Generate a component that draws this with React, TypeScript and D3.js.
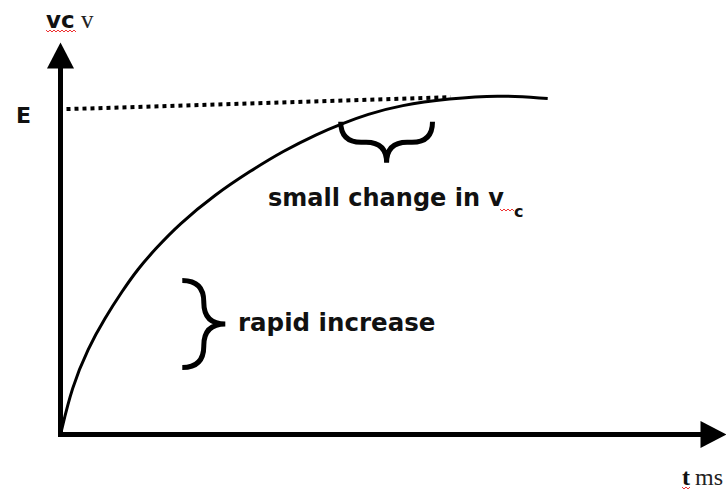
import React from "react";
import * as d3 from "d3";

// ---- data ----
const curveT = [0, 0.19, 0.46, 0.74, 1.03, 1.29, 1.58, 1.96, 2.59, 3.16, 3.71, 4.28, 4.69, 5.11, 5.66, 6.49, 7.27, 8.12];
const curveV = [0, 1.44, 2.62, 3.53, 4.35, 5.02, 5.62, 6.35, 7.29, 7.98, 8.59, 9.11, 9.42, 9.7, 9.98, 10.18, 10.29, 10.18];
const eLineT = [0.1, 6.5];
const eLineV = [9.86, 10.22];
const axisMaxT = 11.1;
const axisMaxV = 11.88;
const smallBrace = { t0: 4.67, t1: 6.2, v: 9.48 };
const rapidBrace = { t: 2.03, v0: 4.67, v1: 2.03 };

const W = 726;
const H = 491;

const x = d3.scaleLinear().domain([0, 10]).range([60.5, 660.5]);
const y = d3.scaleLinear().domain([0, 10]).range([434.5, 104.5]);

function hBrace(x0: number, x1: number, yy: number, d: number) {
  const q = d / 2;
  const m = (x0 + x1) / 2;
  const p = d3.path();
  p.moveTo(x0, yy);
  p.quadraticCurveTo(x0, yy + q, x0 + q, yy + q);
  p.lineTo(m - q, yy + q);
  p.quadraticCurveTo(m, yy + q, m, yy + d);
  p.quadraticCurveTo(m, yy + q, m + q, yy + q);
  p.lineTo(x1 - q, yy + q);
  p.quadraticCurveTo(x1, yy + q, x1, yy);
  return p.toString();
}

function vBrace(xx: number, y0: number, y1: number, d: number) {
  const q = d / 2;
  const m = (y0 + y1) / 2;
  const p = d3.path();
  p.moveTo(xx, y0);
  p.quadraticCurveTo(xx + q, y0, xx + q, y0 + q);
  p.lineTo(xx + q, m - q);
  p.quadraticCurveTo(xx + q, m, xx + d, m);
  p.quadraticCurveTo(xx + q, m, xx + q, m + q);
  p.lineTo(xx + q, y1 - q);
  p.quadraticCurveTo(xx + q, y1, xx, y1);
  return p.toString();
}

function squiggle(x0: number, x1: number, yy: number) {
  const pts: [number, number][] = [];
  let k = 0;
  for (let xx = x0; xx <= x1; xx += 2) {
    pts.push([xx, yy + (k % 2 === 0 ? 0 : 2)]);
    k++;
  }
  return d3.line()(pts) || "";
}

export default function App() {
  const curvePts: [number, number][] = curveT.map((t, i) => [x(t), y(curveV[i])]);
  const curvePath = d3.line().curve(d3.curveBasis)(curvePts) || "";
  const ePath = d3.line()(eLineT.map((t, i) => [x(t), y(eLineV[i])] as [number, number])) || "";

  const ox = x(0);
  const oy = y(0);
  const yTip = y(axisMaxV);
  const xTip = x(axisMaxT);
  const ah = 26;
  const aw = 13.5;

  const sans = "'DejaVu Sans', Verdana, sans-serif";
  const serif = "'Liberation Serif', 'Times New Roman', serif";
  const ink = "#111";

  return (
    <svg width={W} height={H} style={{ position: "absolute", left: 0, top: 0, background: "#fff" }}>
      {/* E dotted line */}
      <path d={ePath} stroke="#000" strokeWidth={4} strokeDasharray="4 4" fill="none" />
      {/* curve */}
      <path d={curvePath} stroke="#000" strokeWidth={3} fill="none" />
      {/* axes */}
      <line x1={ox} y1={oy + 2.5} x2={ox} y2={yTip + ah - 1} stroke="#000" strokeWidth={5} />
      <polygon points={`${ox - aw},${yTip + ah} ${ox + aw},${yTip + ah} ${ox},${yTip}`} fill="#000" />
      <line x1={ox - 2.5} y1={oy} x2={xTip - ah + 1} y2={oy} stroke="#000" strokeWidth={5} />
      <polygon points={`${xTip - ah},${oy - aw} ${xTip - ah},${oy + aw} ${xTip},${oy}`} fill="#000" />
      {/* braces */}
      <path d={hBrace(x(smallBrace.t0), x(smallBrace.t1), y(smallBrace.v), 41)} stroke="#000" strokeWidth={5} fill="none" />
      <path d={vBrace(x(rapidBrace.t), y(rapidBrace.v0), y(rapidBrace.v1), 43)} stroke="#000" strokeWidth={5} fill="none" />
      {/* labels */}
      <text x={46} y={28} fontFamily={sans} fontWeight="bold" fontSize={23} fill={ink}>vc</text>
      <path d={squiggle(46, 77, 30)} stroke="#e33" strokeWidth={1} fill="none" />
      <text x={81} y={28} fontFamily={serif} fontSize={25} fill="#222">v</text>
      <text x={16} y={123} fontFamily={sans} fontWeight="bold" fontSize={22} fill={ink}>E</text>
      <text x={268} y={206} fontFamily={sans} fontWeight="bold" fontSize={24} fill={ink}>small change in v</text>
      <text x={514} y={217} fontFamily={sans} fontWeight="bold" fontSize={16} fill={ink}>c</text>
      <path d={squiggle(500, 515, 209)} stroke="#e33" strokeWidth={1} fill="none" />
      <text x={238} y={331} fontFamily={sans} fontWeight="bold" fontSize={24.5} fill={ink}>rapid increase</text>
      <text x={682} y={485} fontFamily={serif} fontWeight="bold" fontSize={24} fill={ink}>t</text>
      <text x={695} y={485} fontFamily={serif} fontSize={24} fill="#222">ms</text>
      <path d={squiggle(682, 690, 487)} stroke="#e33" strokeWidth={1} fill="none" />
    </svg>
  );
}
